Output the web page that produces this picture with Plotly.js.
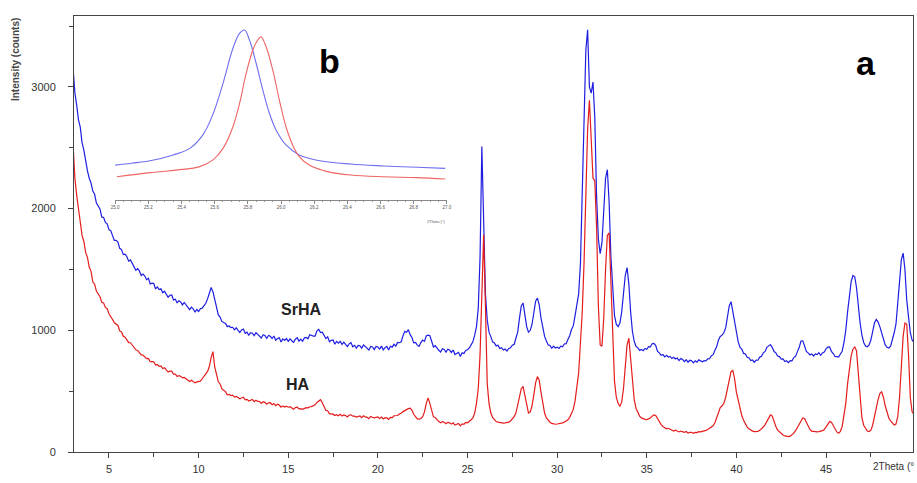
<!DOCTYPE html>
<html>
<head>
<meta charset="utf-8">
<script src="https://cdn.plot.ly/plotly-3.0.1.min.js"></script>
<style>
html,body{margin:0;padding:0;background:#fff;}
#chart{width:917px;height:483px;}
</style>
</head>
<body>
<div id="chart"></div>
<script>
// 2Theta grid (degrees), rows of one degree
const twoTheta = [
3.0,3.1,3.2,3.3,3.4,3.5,3.6,3.7,3.8,3.9,
4.0,4.1,4.2,4.3,4.4,4.5,4.6,4.7,4.8,4.9,
5.0,5.1,5.2,5.3,5.4,5.5,5.6,5.7,5.8,5.9,
6.0,6.1,6.2,6.3,6.4,6.5,6.6,6.7,6.8,6.9,
7.0,7.1,7.2,7.3,7.4,7.5,7.6,7.7,7.8,7.9,
8.0,8.1,8.2,8.3,8.4,8.5,8.6,8.7,8.8,8.9,
9.0,9.1,9.2,9.3,9.4,9.5,9.6,9.7,9.8,9.9,
10.0,10.1,10.2,10.3,10.4,10.5,10.6,10.7,10.8,10.9,
11.0,11.1,11.2,11.3,11.4,11.5,11.6,11.7,11.8,11.9,
12.0,12.1,12.2,12.3,12.4,12.5,12.6,12.7,12.8,12.9,
13.0,13.1,13.2,13.3,13.4,13.5,13.6,13.7,13.8,13.9,
14.0,14.1,14.2,14.3,14.4,14.5,14.6,14.7,14.8,14.9,
15.0,15.1,15.2,15.3,15.4,15.5,15.6,15.7,15.8,15.9,
16.0,16.1,16.2,16.3,16.4,16.5,16.6,16.7,16.8,16.9,
17.0,17.1,17.2,17.3,17.4,17.5,17.6,17.7,17.8,17.9,
18.0,18.1,18.2,18.3,18.4,18.5,18.6,18.7,18.8,18.9,
19.0,19.1,19.2,19.3,19.4,19.5,19.6,19.7,19.8,19.9,
20.0,20.1,20.2,20.3,20.4,20.5,20.6,20.7,20.8,20.9,
21.0,21.1,21.2,21.3,21.4,21.5,21.6,21.7,21.8,21.9,
22.0,22.1,22.2,22.3,22.4,22.5,22.6,22.7,22.8,22.9,
23.0,23.1,23.2,23.3,23.4,23.5,23.6,23.7,23.8,23.9,
24.0,24.1,24.2,24.3,24.4,24.5,24.6,24.7,24.8,24.9,
25.0,25.1,25.2,25.3,25.4,25.5,25.6,25.7,25.8,25.9,
26.0,26.1,26.2,26.3,26.4,26.5,26.6,26.7,26.8,26.9,
27.0,27.1,27.2,27.3,27.4,27.5,27.6,27.7,27.8,27.9,
28.0,28.1,28.2,28.3,28.4,28.5,28.6,28.7,28.8,28.9,
29.0,29.1,29.2,29.3,29.4,29.5,29.6,29.7,29.8,29.9,
30.0,30.1,30.2,30.3,30.4,30.5,30.6,30.7,30.8,30.9,
31.0,31.1,31.2,31.3,31.4,31.5,31.6,31.7,31.8,31.9,
32.0,32.1,32.2,32.3,32.4,32.5,32.6,32.7,32.8,32.9,
33.0,33.1,33.2,33.3,33.4,33.5,33.6,33.7,33.8,33.9,
34.0,34.1,34.2,34.3,34.4,34.5,34.6,34.7,34.8,34.9,
35.0,35.1,35.2,35.3,35.4,35.5,35.6,35.7,35.8,35.9,
36.0,36.1,36.2,36.3,36.4,36.5,36.6,36.7,36.8,36.9,
37.0,37.1,37.2,37.3,37.4,37.5,37.6,37.7,37.8,37.9,
38.0,38.1,38.2,38.3,38.4,38.5,38.6,38.7,38.8,38.9,
39.0,39.1,39.2,39.3,39.4,39.5,39.6,39.7,39.8,39.9,
40.0,40.1,40.2,40.3,40.4,40.5,40.6,40.7,40.8,40.9,
41.0,41.1,41.2,41.3,41.4,41.5,41.6,41.7,41.8,41.9,
42.0,42.1,42.2,42.3,42.4,42.5,42.6,42.7,42.8,42.9,
43.0,43.1,43.2,43.3,43.4,43.5,43.6,43.7,43.8,43.9,
44.0,44.1,44.2,44.3,44.4,44.5,44.6,44.7,44.8,44.9,
45.0,45.1,45.2,45.3,45.4,45.5,45.6,45.7,45.8,45.9,
46.0,46.1,46.2,46.3,46.4,46.5,46.6,46.7,46.8,46.9,
47.0,47.1,47.2,47.3,47.4,47.5,47.6,47.7,47.8,47.9,
48.0,48.1,48.2,48.3,48.4,48.5,48.6,48.7,48.8,48.9,
49.0,49.1,49.2,49.3,49.4,49.5,49.6,49.7,49.8,49.9
];

// SrHA intensity (counts)
const srha = [
3150,2950,2850,2730,2670,2540,2480,2380,2310,2250,
2210,2144,2118,2046,2024,1997,1930,1928,1887,1875,
1827,1819,1778,1739,1739,1725,1674,1663,1622,1626,
1605,1568,1578,1547,1519,1493,1507,1487,1451,1463,
1446,1416,1427,1382,1388,1384,1340,1357,1335,1342,
1309,1321,1295,1272,1288,1290,1250,1256,1227,1243,
1234,1209,1229,1207,1188,1170,1191,1177,1148,1171,
1155,1178,1182,1205,1222,1258,1302,1352,1318,1252,
1190,1127,1109,1073,1064,1056,1030,1036,1023,1025,
1004,1021,1000,982,1003,1010,975,985,960,980,
976,956,981,964,950,937,964,957,933,957,
951,932,953,918,933,938,904,930,917,933,
909,930,914,901,927,940,911,928,910,938,
941,930,964,957,953,953,996,1007,981,985,
962,932,946,906,918,921,885,909,895,910,
884,903,884,867,889,898,865,877,854,876,
873,854,880,864,851,839,868,863,841,867,
863,846,870,839,858,868,838,869,862,885,
870,900,898,906,954,992,984,1005,964,941,
897,900,878,868,899,920,909,953,961,956,
910,863,874,852,836,821,849,843,820,844,
838,818,838,801,814,819,785,815,809,835,
840,855,880,905,960,1030,1180,1600,2510,1900,
1300,1085,985,948,905,897,872,878,851,857,
838,846,829,851,856,878,884,935,985,1100,
1200,1225,1130,1030,985,1000,1050,1150,1240,1265,
1210,1100,1010,950,912,880,875,852,870,855,
862,851,870,864,888,890,925,955,1006,1036,
1120,1200,1300,1550,2200,2850,3300,3470,3000,2950,
3040,2750,2100,1750,1630,1720,2000,2250,2320,2050,
1600,1300,1120,1050,1030,1060,1150,1300,1450,1515,
1380,1150,990,910,868,856,835,842,833,851,
844,866,864,890,893,874,826,815,795,801,
782,794,781,786,768,779,765,772,752,768,
760,742,758,738,754,749,733,750,738,757,
752,741,750,748,765,766,790,800,836,866,
920,950,960,980,1020,1100,1200,1235,1150,1040,
960,905,860,845,810,806,778,775,752,756,
738,755,754,780,786,815,826,860,872,883,
858,826,815,789,784,764,765,744,750,735,
750,749,776,786,825,858,912,913,872,826,
815,798,806,789,805,800,816,795,814,822,
848,862,863,826,809,785,784,780,805,828,
900,1000,1150,1300,1400,1450,1440,1350,1180,1060,
960,900,870,865,880,920,990,1060,1090,1070,
1030,980,920,880,860,855,870,920,980,1050,
1200,1400,1580,1635,1500,1250,1110,980,920,900
];

// HA intensity (counts)
const ha = [
2520,2250,2110,1980,1890,1780,1730,1640,1600,1520,
1485,1397,1379,1323,1302,1276,1230,1224,1188,1178,
1136,1117,1089,1062,1054,1040,995,987,951,943,
922,899,898,876,855,840,835,818,798,796,
785,767,769,743,742,741,715,719,703,707,
686,692,674,657,664,665,640,641,621,628,
622,609,613,601,590,580,590,581,568,576,
578,582,602,618,642,662,702,778,825,700,
625,577,559,518,507,496,470,474,463,467,
451,457,447,437,444,450,429,433,419,428,
432,414,426,416,415,400,413,408,393,404,
405,389,399,381,392,386,368,379,370,377,
368,372,361,352,366,368,354,356,351,361,
364,363,372,373,382,388,407,423,430,405,
375,342,339,313,314,311,300,307,298,310,
296,305,299,288,304,305,294,294,287,293,
297,282,298,288,285,274,292,286,281,285,
289,276,287,272,282,281,268,284,283,298,
297,300,312,318,332,340,354,356,360,345,
310,285,272,270,275,290,330,400,445,400,
332,289,283,263,250,240,250,245,233,244,
240,229,239,221,228,234,215,231,228,243,
240,250,265,280,320,400,520,800,1300,1785,
1200,560,400,320,285,262,250,245,242,240,
238,240,242,245,255,270,290,320,380,460,
520,540,470,370,320,330,380,470,570,620,
590,490,390,320,280,258,245,235,230,228,
230,232,236,240,245,252,265,285,315,350,
420,530,650,900,1150,1550,2100,2650,2890,2550,
2250,2230,1850,1200,880,870,1100,1500,1780,1800,
1350,850,580,450,400,375,410,520,720,880,
935,780,560,430,360,320,295,280,272,268,
266,270,280,295,305,300,275,245,225,210,
202,191,195,186,177,172,179,174,165,172,
168,162,168,155,161,162,153,161,159,167,
165,168,172,178,185,195,205,215,240,280,
330,365,380,400,450,520,610,660,670,600,
490,420,350,300,260,230,205,190,180,172,
168,166,170,178,190,205,225,255,285,305,
295,250,210,180,165,150,140,132,128,126,
130,140,155,175,200,230,260,280,275,240,
205,185,172,168,165,166,168,170,175,185,
205,230,250,245,215,185,165,155,170,210,
290,400,560,700,790,845,865,830,650,400,
280,220,190,172,168,180,220,280,360,430,
480,495,450,380,320,280,255,235,222,230,
290,450,700,950,1060,1050,800,450,330,310
];

// Inset (b): zoom on the (002) reflection, relative intensity
const insetThetaSrHA = [25.0,25.1,25.21,25.35,25.45,25.53,25.59,25.65,25.71,25.75,25.78,25.81,25.85,25.89,25.93,25.97,26.03,26.11,26.21,26.42,26.62,26.82,26.99];
const insetSrHA = [203,214,228,262,300,380,500,678,882,969,988,930,795,640,504,407,320,262,233,209,198,190,184];
const insetThetaHA = [25.01,25.21,25.41,25.51,25.59,25.65,25.71,25.75,25.79,25.83,25.86,25.88,25.91,25.95,25.99,26.03,26.07,26.11,26.17,26.28,26.42,26.62,26.82,26.99];
const insetHA = [135,159,178,194,233,300,426,562,737,872,930,948,891,756,581,426,320,252,203,165,145,135,130,122];

const xTickVals = [5,10,15,20,25,30,35,40,45];
const yTickVals = [0,1000,2000,3000];

const blue = 'rgb(30,30,225)';
const red = 'rgb(228,28,28)';

const traces = [
  {x: twoTheta, y: srha, type: 'scatter', mode: 'lines', name: 'SrHA',
   line: {color: blue, width: 1.2}, xaxis: 'x', yaxis: 'y'},
  {x: twoTheta, y: ha, type: 'scatter', mode: 'lines', name: 'HA',
   line: {color: red, width: 1.2}, xaxis: 'x', yaxis: 'y'},
  {x: insetThetaSrHA, y: insetSrHA, type: 'scatter', mode: 'lines',
   line: {color: 'rgb(110,110,240)', width: 1.1, shape: 'spline'}, xaxis: 'x2', yaxis: 'y2'},
  {x: insetThetaHA, y: insetHA, type: 'scatter', mode: 'lines',
   line: {color: 'rgb(240,100,100)', width: 1.1, shape: 'spline'}, xaxis: 'x2', yaxis: 'y2'}
];

const tickFont = {family: '"Liberation Sans Narrow", "Arial Narrow", "Liberation Sans", Arial, sans-serif', size: 11, color: '#333'};
const boldFont = '"Liberation Sans", Arial, sans-serif';

const layout = {
  width: 917, height: 483,
  margin: {l: 74, r: 4, t: 16, b: 31},
  paper_bgcolor: '#fff', plot_bgcolor: '#fff',
  showlegend: false,
  xaxis: {
    range: [3.05, 49.85], showgrid: false, zeroline: false,
    showline: true, linecolor: '#444', linewidth: 1, mirror: true,
    ticks: 'outside', ticklen: 5, tickcolor: '#444', ticklabelstandoff: 2,
    tickvals: xTickVals, ticktext: xTickVals.map(String),
    tickfont: tickFont,
    minor: {dtick: 2.5, tick0: 2.5, ticks: 'outside', ticklen: 4, tickcolor: '#444', showgrid: false}
  },
  yaxis: {
    range: [0, 3583], showgrid: false, zeroline: false,
    showline: true, linecolor: '#444', linewidth: 1, mirror: true,
    ticks: 'outside', ticklen: 5, tickcolor: '#444', ticklabelstandoff: 10,
    tickvals: yTickVals, ticktext: yTickVals.map(String),
    tickfont: tickFont,
    minor: {dtick: 500, tick0: 0, ticks: 'outside', ticklen: 4, tickcolor: '#444', showgrid: false}
  },
  xaxis2: {
    domain: [0.0489, 0.4446], anchor: 'y2', range: [24.999, 27.001],
    showgrid: false, zeroline: false, showline: true, linecolor: '#888', linewidth: 1,
    ticks: 'outside', ticklen: 3, tickcolor: '#888', dtick: 0.2, tick0: 25, tickformat: '.1f',
    tickfont: {family: 'Liberation Sans, Arial, sans-serif', size: 4.5, color: '#555'},
    minor: {dtick: 0.05, ticks: 'outside', ticklen: 1.5, tickcolor: '#999', showgrid: false}
  },
  yaxis2: {
    domain: [0.578, 0.9725], anchor: 'x2', range: [0, 1000],
    visible: false, showgrid: false, zeroline: false
  },
  annotations: [
    {text: 'SrHA', x: 15.71, y: 1167, xref: 'x', yref: 'y', showarrow: false,
     xanchor: 'center', yanchor: 'middle',
     font: {family: boldFont, size: 16, color: '#222', weight: 'bold'}},
    {text: 'HA', x: 15.54, y: 551, xref: 'x', yref: 'y', showarrow: false,
     xanchor: 'center', yanchor: 'middle',
     font: {family: boldFont, size: 16, color: '#222', weight: 'bold'}},
    {text: 'b', x: 0.304, y: 0.897, xref: 'paper', yref: 'paper', showarrow: false,
     xanchor: 'center', yanchor: 'middle',
     font: {family: boldFont, size: 34, color: '#000', weight: 'bold'}},
    {text: 'a', x: 0.944, y: 0.892, xref: 'paper', yref: 'paper', showarrow: false,
     xanchor: 'center', yanchor: 'middle',
     font: {family: boldFont, size: 34, color: '#000', weight: 'bold'}},
    {text: 'Intensity (counts)', textangle: -90, x: -0.0703, y: 0.899, xref: 'paper', yref: 'paper',
     showarrow: false, xanchor: 'center', yanchor: 'middle',
     font: {family: '"Liberation Sans Narrow", "Liberation Sans", Arial, sans-serif', size: 10, color: '#444', weight: 'bold'}},
    {text: '2Theta (°', x: 1.0, y: -0.034, xref: 'paper', yref: 'paper', showarrow: false,
     xanchor: 'right', yanchor: 'middle', xshift: 3,
     font: {family: boldFont, size: 10, color: '#333'}},
    {text: '2Theta (°)', x: 0.4446, y: 0.528, xref: 'paper', yref: 'paper', showarrow: false,
     xanchor: 'right', yanchor: 'middle',
     font: {family: 'Liberation Sans, Arial, sans-serif', size: 4, color: '#555'}}
  ]
};

Plotly.newPlot('chart', traces, layout, {displayModeBar: false, staticPlot: true});
</script>
</body>
</html>
